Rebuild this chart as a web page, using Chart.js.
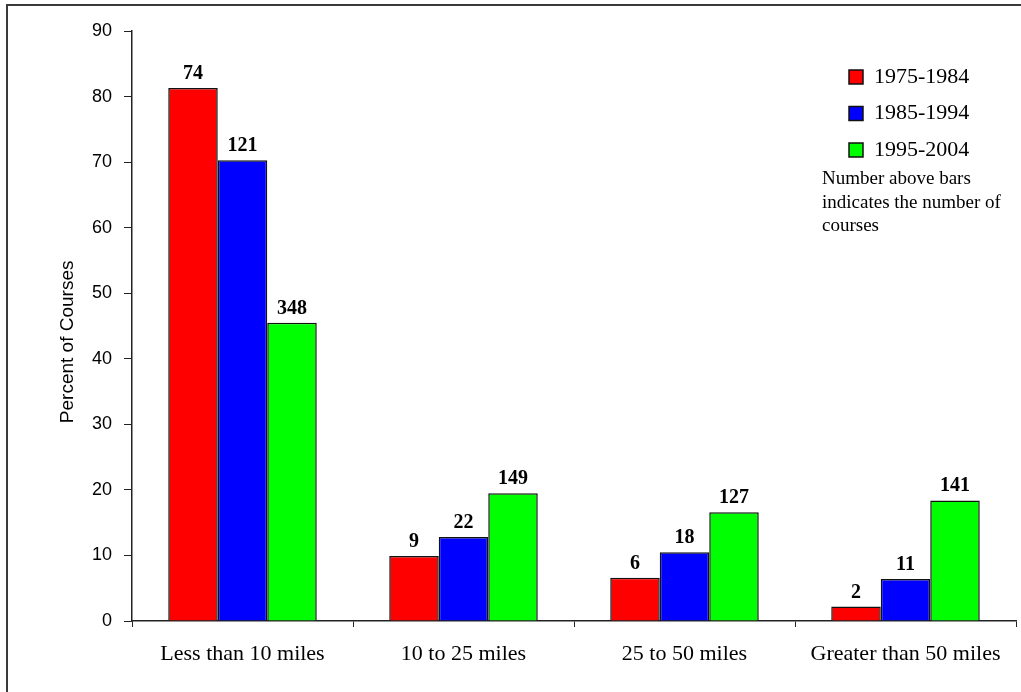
<!DOCTYPE html>
<html>
<head>
<meta charset="utf-8">
<script src="https://cdn.jsdelivr.net/npm/chart.js@4"></script>
<style>
  html, body { margin: 0; padding: 0; background: #fff; }
  canvas { display: block; }
</style>
</head>
<body>
<canvas id="milesChart" width="1021" height="692"></canvas>
<script>
const categories = ['Less than 10 miles', '10 to 25 miles', '25 to 50 miles', 'Greater than 50 miles'];
const periods = ['1975-1984', '1985-1994', '1995-2004'];
const pct1975 = [81.3, 9.9, 6.6, 2.2];
const pct1985 = [70.3, 12.8, 10.5, 6.4];
const pct1995 = [45.5, 19.5, 16.6, 18.4];
const courses1975 = [74, 9, 6, 2];
const courses1985 = [121, 22, 18, 11];
const courses1995 = [348, 149, 127, 141];
const yMax = 90;
const yStep = 10;
const noteLines = ['Number above bars', 'indicates the number of', 'courses'];

(function() {
  if (typeof Chart === 'undefined') return;

  const serif = '"Liberation Serif", "Times New Roman", serif';
  const sans = '"Liberation Sans", Arial, sans-serif';
  const counts = [courses1975, courses1985, courses1995];

  // thin frame on the top and left, as in the original image
  const framePlugin = {
    id: 'frame',
    beforeDraw(chart) {
      const ctx = chart.ctx;
      ctx.save();
      ctx.strokeStyle = '#3a3a3a';
      ctx.lineWidth = 2;
      ctx.beginPath();
      ctx.moveTo(7, 700);
      ctx.lineTo(7, 5);
      ctx.lineTo(1030, 5);
      ctx.stroke();
      ctx.restore();
    }
  };

  // course counts above each bar
  const countPlugin = {
    id: 'counts',
    afterDatasetsDraw(chart) {
      const ctx = chart.ctx;
      ctx.save();
      ctx.font = 'bold 20px ' + serif;
      ctx.fillStyle = '#000';
      ctx.textAlign = 'center';
      ctx.textBaseline = 'alphabetic';
      chart.data.datasets.forEach(function(ds, di) {
        chart.getDatasetMeta(di).data.forEach(function(bar, i) {
          ctx.fillText(String(counts[di][i]), bar.x, bar.y - 9);
        });
      });
      ctx.restore();
    }
  };

  // note under the legend + move legend to the top right of the plot
  const notePlugin = {
    id: 'note',
    afterLayout(chart) {
      const lg = chart.legend;
      if (!lg) return;
      lg.left = 834.5;
      lg.top = 51.5;
      lg.right = lg.left + 180;
      lg.bottom = lg.top + 130;
    },
    afterDraw(chart) {
      const ctx = chart.ctx;
      ctx.save();
      ctx.font = '19px ' + serif;
      ctx.fillStyle = '#000';
      ctx.textAlign = 'left';
      ctx.textBaseline = 'alphabetic';
      noteLines.forEach(function(line, i) {
        ctx.fillText(line, 822, 184 + i * 23.5);
      });
      ctx.restore();
    }
  };

  const colors = ['#ff0000', '#0000ff', '#00ff00'];
  const values = [pct1975, pct1985, pct1995];

  window.milesChart = new Chart(document.getElementById('milesChart'), {
    type: 'bar',
    data: {
      labels: categories,
      datasets: periods.map(function(p, i) {
        return {
          label: p,
          data: values[i],
          backgroundColor: colors[i],
          borderColor: '#111',
          borderWidth: 1.5,
          categoryPercentage: 0.672,
          barPercentage: 1.0
        };
      })
    },
    options: {
      responsive: false,
      animation: false,
      layout: {
        padding: { left: 8, top: 31, right: 5, bottom: 0 }
      },
      plugins: {
        legend: {
          position: 'chartArea',
          align: 'start',
          labels: {
            boxWidth: 14,
            boxHeight: 14,
            padding: 14.5,
            color: '#000',
            font: { family: serif, size: 22 }
          }
        },
        tooltip: { enabled: false }
      },
      scales: {
        x: {
          afterFit: function(scale) { scale.height = 71; },
          grid: {
            offset: true,
            drawOnChartArea: false,
            drawTicks: true,
            tickLength: 6,
            color: '#222',
            tickColor: '#222'
          },
          border: { display: true, color: '#222', width: 1.5 },
          ticks: {
            color: '#000',
            padding: 14,
            autoSkip: false,
            maxRotation: 0,
            font: { family: serif, size: 22 }
          }
        },
        y: {
          min: 0,
          max: yMax,
          afterFit: function(scale) { scale.width = 124; },
          grid: {
            drawOnChartArea: false,
            drawTicks: true,
            tickLength: 8,
            color: '#222',
            tickColor: '#222'
          },
          border: { display: true, color: '#222', width: 1.5 },
          ticks: {
            stepSize: yStep,
            color: '#000',
            padding: 12,
            font: { family: sans, size: 18 }
          },
          title: {
            display: true,
            // trailing spaces nudge the rotated title down to where the original has it
            text: 'Percent of Courses      ',
            color: '#000',
            padding: { top: 48, bottom: 0 },
            font: { family: sans, size: 19 }
          }
        }
      }
    },
    plugins: [framePlugin, countPlugin, notePlugin]
  });
})();
</script>
</body>
</html>
